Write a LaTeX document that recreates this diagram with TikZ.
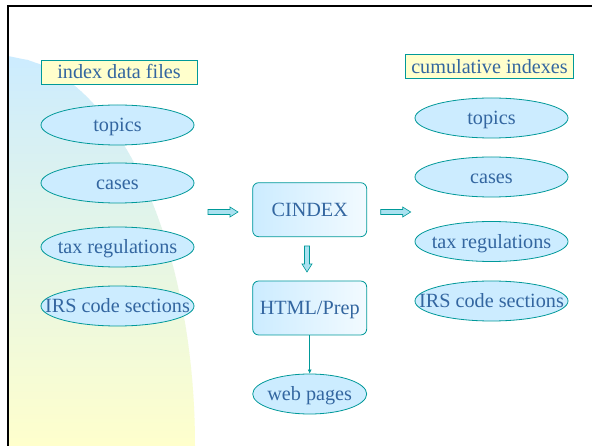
\documentclass[tikz,border=0pt]{standalone}
\usepackage{fontspec}
\setmainfont{Liberation Serif}
\usepackage{tikz}
\usetikzlibrary{shapes.geometric,arrows.meta}
\definecolor{slidetext}{RGB}{51,102,160}
\definecolor{tealline}{RGB}{0,153,153}
\definecolor{ovalfill}{RGB}{204,236,255}
\definecolor{notefill}{RGB}{255,255,204}
\definecolor{arrowfill}{RGB}{170,225,240}
\tikzset{
  every node/.style={text=slidetext, font=\fontsize{20.2}{23}\selectfont,
    text height=14pt, text depth=0pt},
  oval/.style={ellipse, draw=tealline, fill=ovalfill, line width=0.8pt,
    minimum width=153pt, minimum height=40pt, inner sep=0pt},
  note/.style={rectangle, draw=tealline, fill=notefill, line width=0.8pt,
    minimum height=24pt, inner sep=0pt},
  prog/.style={rectangle, rounded corners=6pt, draw=tealline, line width=0.8pt,
    left color=ovalfill, right color=white!75!ovalfill,
    minimum width=114pt, minimum height=54pt, inner sep=0pt},
  blockarrow/.pic={
    \pgfmathsetmacro{\arrhalf}{#1/2}
    \pgfmathsetmacro{\arrneck}{#1/2-8}
    \draw[tealline, fill=arrowfill, line width=0.6pt]
      (-\arrhalf,-2.5) -- (\arrneck,-2.5) -- (\arrneck,-5) -- (\arrhalf,0)
      -- (\arrneck,5) -- (\arrneck,2.5) -- (-\arrhalf,2.5) -- cycle;
  }
}

\begin{document}
\begin{tikzpicture}[x=1pt, y=-1pt]
  \useasboundingbox (0,0) rectangle (592,446);
  \fill[white] (0,0) rectangle (592,446);

  % background swoosh, in strips
  \foreach \k in {0,...,99}{
    \pgfmathsetmacro{\yt}{56+3.9*\k}
    \pgfmathsetmacro{\yb}{min(\yt+4.4,446)}
    \pgfmathsetmacro{\xt}{max(8,195*sqrt(max(0,1-((446-\yt)/390)^2)))}
    \pgfmathsetmacro{\xb}{max(8,195*sqrt(max(0,1-((446-\yb)/390)^2)))}
    \pgfmathtruncatemacro{\mixpct}{100*\k/99}
    \fill[notefill!\mixpct!ovalfill] (8,\yt) -- (\xt,\yt) -- (\xb,\yb) -- (8,\yb) -- cycle;
  };
  \draw[line width=2.4pt] (8,446) -- (8,6) -- (592,6);

  \node[note, minimum width=156pt] (inlabel) at (119,72) {index data files};
  \node[note, minimum width=168pt] (outlabel) at (489.5,66.7) {cumulative indexes};

  \foreach \txt/\yl/\yr [count=\i] in {topics/125/118, cases/183/177,
      tax regulations/247/241.5, IRS code sections/306/301}{
    \node[oval] (in\i) at (117.5,\yl) {\makebox[0pt]{\txt}};
    \node[oval] (out\i) at (491.5,\yr) {\makebox[0pt]{\txt}};
  };

  \node[prog] (cindex) at (309.7,209.7) {CINDEX};
  \node[prog] (htmlprep) at (309.7,308) {HTML/Prep};
  \node[oval, minimum width=114pt] (webpages) at (309.7,394) {\makebox[0pt]{web pages}};

  \pic at (223,212) {blockarrow=30};
  \pic at (395.7,212) {blockarrow=30};
  \pic[rotate=-90] at (307,259) {blockarrow=26};

  \draw[tealline, line width=0.6pt, -{Latex[length=4pt,width=4pt]}] (htmlprep) -- (webpages);
\end{tikzpicture}
\end{document}
